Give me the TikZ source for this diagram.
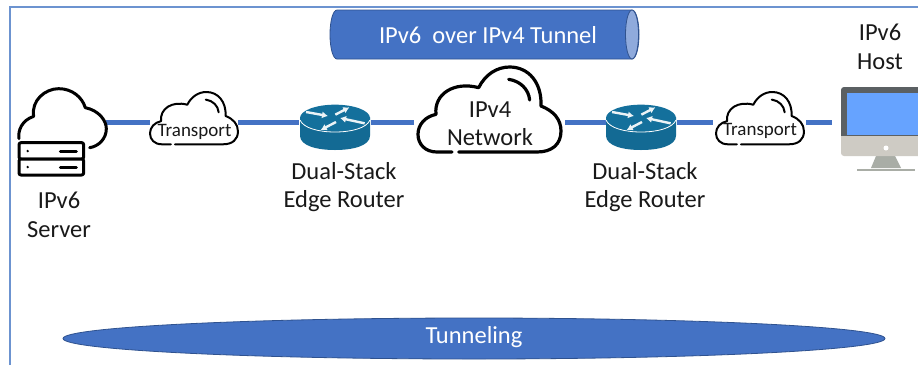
\documentclass[tikz,border=0pt]{standalone}
\usepackage{fontspec}
\usetikzlibrary{arrows.meta,shapes.geometric}
\setmainfont{Carlito}
\definecolor{tblue}{HTML}{4472C4}
\definecolor{tedge}{HTML}{2F528F}
\definecolor{tlight}{HTML}{8FAADC}
\definecolor{frameblue}{HTML}{6C93D0}
\definecolor{routerc}{HTML}{136A94}
\definecolor{routertop}{HTML}{14709C}
\definecolor{mframe}{HTML}{5B6063}
\definecolor{mscreen}{HTML}{66A3FF}
\definecolor{mbase}{HTML}{CECBC4}
\definecolor{mstand}{HTML}{A9ADA6}
\tikzset{
  iconbox/.style={inner sep=0pt,outer sep=0pt,minimum width=#1},
  link/.style={tblue,line width=5pt},
  lbl/.style={font=\fontsize{24.5}{28.5}\selectfont,align=center,inner sep=0pt,text=black!90},
  tlbl/.style={font=\fontsize{19}{22}\selectfont,inner sep=0pt,text=black!90},
  wlbl/.style={font=\fontsize{24.5}{28}\selectfont,inner sep=0pt,text=white},
  iconlw/.store in=\iconlw, iconlw=3pt,
  icon/.style={line width=\iconlw,line cap=round,line join=round,black,fill=none},
  solidfill/.style={fill=tblue,draw=tedge,line width=0.8pt},
  cloudicon/.pic={
    \draw[icon] (102,255) -- (57,255) .. controls (22,255) and (0,232) .. (0,202)
      .. controls (0,172) and (22,149) .. (54,142)
      .. controls (47,82) and (107,42) .. (182,62)
      .. controls (202,22) and (237,0) .. (275,0)
      .. controls (332,0) and (372,47) .. (369,117)
      .. controls (407,132) and (429,157) .. (429,192)
      .. controls (429,232) and (402,255) .. (357,255) -- (122,255);
    \draw[icon] (272,37) .. controls (307,42) and (332,67) .. (335,99);
  },
  servericon/.pic={
    \draw[icon] (6,155) .. controls (2,130) and (15,100) .. (50,88)
      .. controls (42,40) and (85,5) .. (125,5)
      .. controls (165,5) and (195,30) .. (205,62)
      .. controls (245,70) and (268,100) .. (268,125)
      .. controls (268,155) and (245,178) .. (218,182);
    \draw[icon,fill=white,rounded corners=2pt] (6,167) rectangle (200,216);
    \draw[icon,fill=white,rounded corners=2pt] (6,216) rectangle (200,264);
    \fill[black] (32,192) circle (4);
    \fill[black] (32,240) circle (4);
    \draw[icon] (130,192) -- (178,192);
    \draw[icon] (130,240) -- (178,240);
  },
  routericon/.pic={
    \fill[routerc] (0,40) -- (0,95) .. controls (0,125) and (50,138) .. (105,138)
      .. controls (160,138) and (210,125) .. (210,95) -- (210,40) -- cycle;
    \fill[routertop] (105,42) ellipse [x radius=105, y radius=40];
    \draw[white,line width=0.8pt] (0,48) .. controls (10,72) and (55,84) .. (105,84)
      .. controls (155,84) and (200,72) .. (210,48);
    \begin{scope}[white!92!routerc,line width=2.4pt,-{Latex[length=6pt,width=7pt]}]
      \draw (18,24) -- (84,36);
      \draw (194,58) -- (120,42);
      \draw (106,32) -- (148,10);
      \draw (108,54) -- (62,78);
    \end{scope}
  },
}
\begin{document}
\begin{tikzpicture}[x=1pt,y=-1pt]
\useasboundingbox (0,0) rectangle (918,365);
\fill[white] (0,0) rectangle (918,365);
\draw[frameblue,line width=1.4pt] (10,365) -- (10,7) -- (918,7);

% tunnel
\draw[solidfill] (337,10) -- (632,10) .. controls (636,10) and (639,21) .. (639,34.5)
  .. controls (639,48) and (636,59) .. (632,59) -- (337,59)
  .. controls (333,59) and (330,48) .. (330,34.5) .. controls (330,21) and (333,10) .. (337,10) -- cycle;
\draw[fill=tlight,draw=tedge,line width=0.8pt] (632,34.5) ellipse [x radius=6.5, y radius=24.5];
\node[wlbl] (tunnel) at (488,35) {IPv6\ \ over IPv4 Tunnel};

% tunneling ellipse
\node[solidfill,ellipse,minimum width=822pt,minimum height=41pt,inner sep=0pt] (tunneling) at (474,338.5) {};
\node[wlbl] (tunnelingt) at (474,337) {Tunneling};

% icon boxes, all centred on the connector height
\node[iconbox=88pt,minimum height=71pt,anchor=west] (server) at (17,122.5) {};
\node[iconbox=88pt,minimum height=61pt,anchor=west] (t1) at (150,122.5) {};
\node[iconbox=70pt,minimum height=37pt,anchor=west] (r1) at (300,122.5) {};
\node[iconbox=144pt,minimum height=111pt,anchor=west] (v4) at (418,122.5) {};
\node[iconbox=70pt,minimum height=37pt,anchor=west] (r2) at (606,122.5) {};
\node[iconbox=88pt,minimum height=61pt,anchor=west] (t2) at (716,122.5) {};
\node[iconbox=77pt,minimum height=71pt,anchor=west] (host) at (841,122.5) {};

% connectors
\draw[link,shorten <=1pt] (server) -- (t1);
\draw[link,shorten >=1pt] (t1) -- (r1);
\draw[link,shorten <=1pt,shorten >=4pt] (r1) -- (v4);
\draw[link,shorten <=3pt] (v4) -- (r2);
\draw[link,shorten <=1pt,shorten >=3pt] (r2) -- (t2);
\draw[link,shorten <=2pt,shorten >=9pt] (t2.east) -- (host.west);

% icons
\pic[scale=1/3,iconlw=3pt] at (server.north west) {servericon};
\pic[scale=0.205,iconlw=2pt] at (t1.north west) {cloudicon};
\pic[scale=0.205,iconlw=2pt] at (t2.north west) {cloudicon};
\pic[scale=1/3,iconlw=3.2pt] at (v4.north west) {cloudicon};
\pic[scale=1/3] at (r1.north west) {routericon};
\pic[scale=1/3] at (r2.north west) {routericon};

% host
\begin{scope}
  \clip (841,87) rectangle (918,200);
  \fill[mstand] (876,156) -- (895,156) -- (901,168) -- (871,168) -- cycle;
  \draw[mstand,line width=2.5pt] (857,170) -- (915,170);
  \fill[mbase,rounded corners=3pt] (841,130) rectangle (940,156);
  \fill[mframe,rounded corners=3pt] (841,87) rectangle (940,140);
  \fill[mframe] (841,125) rectangle (940,136);
  \fill[mbase] (841,136) rectangle (940,146);
  \fill[mscreen] (847,93) rectangle (940,135);
  \fill[white] (886,148) circle (2.5);
\end{scope}

% labels
\node[tlbl] (t1l) at (194.5,132) {Transport};
\node[tlbl] (t2l) at (760,131) {Transport};
\node[lbl] (v4l) at (490,123.5) {IPv4\\Network};
\node[lbl] (r1l) at (344,187) {Dual-Stack\\Edge Router};
\node[lbl] (r2l) at (645,187) {Dual-Stack\\Edge Router};
\node[lbl] (serverl) at (59,215) {IPv6\\Server};
\node[lbl] (hostl) at (880,47) {IPv6\\Host};
\end{tikzpicture}
\end{document}
